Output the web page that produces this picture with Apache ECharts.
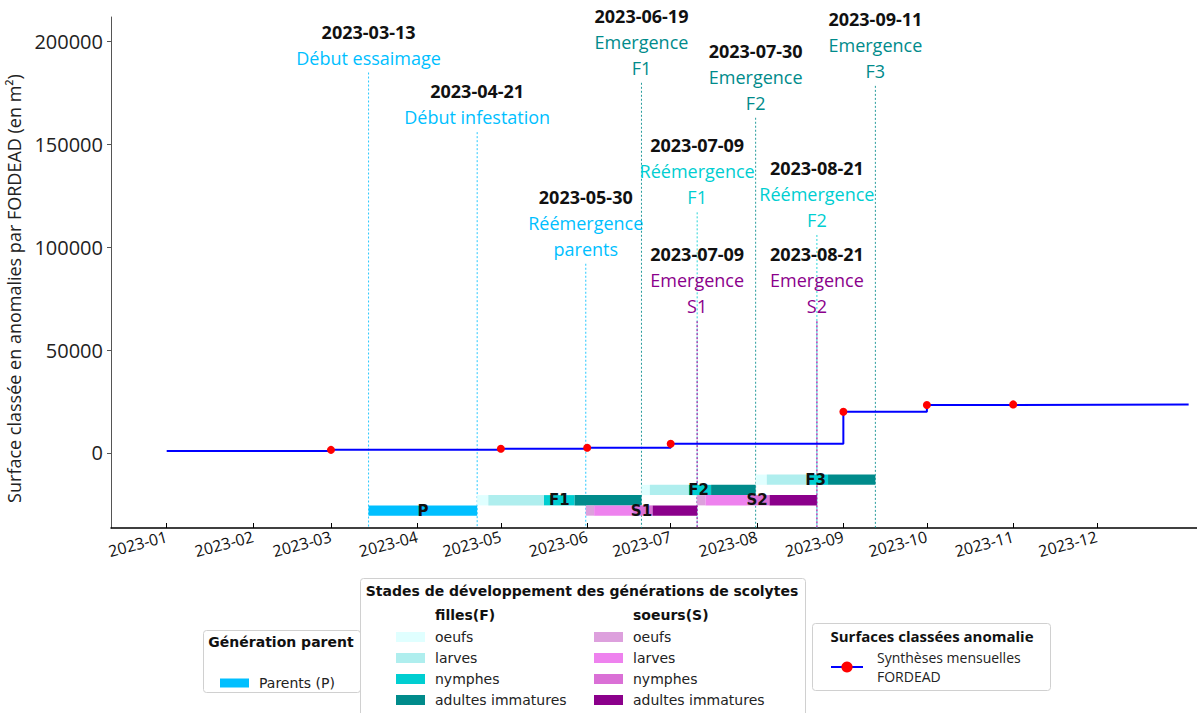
<!DOCTYPE html>
<html>
<head>
<meta charset="utf-8">
<script src="https://cdn.jsdelivr.net/npm/echarts@6/dist/echarts.min.js"></script>
<style>
html, body { margin: 0; padding: 0; background: #fff; }
#main { width: 1197px; height: 713px; }
</style>
</head>
<body>
<div id="main"></div>
<script>
// synthèses mensuelles FORDEAD (surface en m²)
const syntheseDates = ['2023-01-01', '2023-03-01', '2023-05-01', '2023-06-01', '2023-07-01', '2023-09-01', '2023-10-01', '2023-11-01', '2024-01-03'];
const syntheseValues = [1000, 1500, 2000, 2500, 4500, 20000, 23300, 23600, 23600];
const syntheseMarked = [false, true, true, true, true, true, true, true, false];

const monthTicks = ['2023-01-01', '2023-02-01', '2023-03-01', '2023-04-01', '2023-05-01', '2023-06-01',
  '2023-07-01', '2023-08-01', '2023-09-01', '2023-10-01', '2023-11-01', '2023-12-01'];
const monthLabels = ['2023-01', '2023-02', '2023-03', '2023-04', '2023-05', '2023-06',
  '2023-07', '2023-08', '2023-09', '2023-10', '2023-11', '2023-12'];
const yTicks = [0, 50000, 100000, 150000, 200000];

// générations de scolytes
const generations = ['P', 'F1', 'S1', 'F2', 'S2', 'F3'];
const genFamily = ['P', 'F', 'S', 'F', 'S', 'F'];
const genRows = [-28000, -23000, -28000, -18000, -23000, -13000];
const genStages = [
  ['2023-03-13', '2023-04-21'],
  ['2023-04-21', '2023-04-25', '2023-05-15', '2023-05-26', '2023-06-19'],
  ['2023-05-30', '2023-06-02', '2023-06-16', '2023-06-23', '2023-07-09'],
  ['2023-06-19', '2023-06-22', '2023-07-06', '2023-07-14', '2023-07-30'],
  ['2023-07-09', '2023-07-12', '2023-07-27', '2023-08-04', '2023-08-21'],
  ['2023-07-30', '2023-08-03', '2023-08-18', '2023-08-25', '2023-09-11']
];
const stageNames = ['oeufs', 'larves', 'nymphes', 'adultes immatures'];
const fillesColors = ['#e0ffff', '#afeeee', '#00ced1', '#008b8b'];
const soeursColors = ['#dda0dd', '#ee82ee', '#da70d6', '#8b008b'];
const parentColor = '#00bfff';

// dates clés
const annotDates = ['2023-03-13', '2023-04-21', '2023-05-30', '2023-06-19', '2023-07-09',
  '2023-07-09', '2023-07-30', '2023-08-21', '2023-08-21', '2023-09-11'];
const annotTexts = ['Début essaimage', 'Début infestation', 'Réémergence\nparents', 'Emergence\nF1', 'Réémergence\nF1',
  'Emergence\nS1', 'Emergence\nF2', 'Réémergence\nF2', 'Emergence\nS2', 'Emergence\nF3'];
const annotTops = [185000, 156000, 92000, 180000, 117000, 64000, 163000, 106000, 64000, 178500];
const annotColors = ['#00bfff', '#00bfff', '#00bfff', '#008b8b', '#00ced1',
  '#8b008b', '#008b8b', '#00ced1', '#8b008b', '#008b8b'];

const Y_MIN = -36500;
const Y_MAX = 212000;
const BAR_H = 5000;
// events are drawn late in the day, like in the source figure
const EVENT_SHIFT = 1.5 * 86400000;

const ts = d => echarts.time.parse(d).getTime();
const evt = d => ts(d) + EVENT_SHIFT;
const tickTimes = monthTicks.map(ts);

const chart = echarts.init(document.getElementById('main'), null, { renderer: 'svg' });

function barItem(params, api) {
  const p0 = api.coord([api.value(0), api.value(2)]);
  const p1 = api.coord([api.value(1), api.value(2)]);
  const h = api.size([0, BAR_H])[1];
  return {
    type: 'rect',
    shape: { x: p0[0], y: p0[1] - h / 2, width: p1[0] - p0[0], height: h },
    style: { fill: api.visual('color') }
  };
}

function stageSeries(prefix, colors) {
  return stageNames.map((st, k) => ({
    name: prefix + '|' + st,
    type: 'custom',
    renderItem: barItem,
    itemStyle: { color: colors[k] },
    encode: { x: [0, 1], y: 2 },
    z: 3,
    data: generations.map((g, i) => i).filter(i => genFamily[i] === prefix)
      .map(i => [evt(genStages[i][k]), evt(genStages[i][k + 1]), genRows[i]])
  }));
}

const lineData = syntheseDates.map((d, i) => {
  const item = { value: [ts(d), syntheseValues[i]] };
  if (!syntheseMarked[i]) item.symbol = 'none';
  return item;
});

const legendText = { fontFamily: 'DejaVu Sans', fontSize: 14, color: '#222', padding: [0, 0, 0, 5] };
const stripName = name => name.indexOf('|') >= 0 ? name.split('|')[1] : name;
const boldText = { fontFamily: 'DejaVu Sans', fontWeight: 'bold', fontSize: 14, fill: '#111', verticalAlign: 'middle' };

const option = {
  backgroundColor: '#fff',
  animation: false,
  grid: { left: 111, right: 0, top: 17, bottom: 185, outerBoundsMode: 'none' },
  xAxis: {
    type: 'value',
    min: ts('2022-12-12'),
    max: ts('2024-01-06'),
    splitLine: { show: false },
    axisLine: { show: true, onZero: false, lineStyle: { color: '#000', width: 1.5 } },
    axisTick: { show: true, inside: true, length: 5, lineStyle: { color: '#000' }, customValues: tickTimes },
    axisLabel: {
      show: true,
      customValues: tickTimes,
      rotate: 15,
      margin: 8,
      fontFamily: 'Open Sans',
      fontSize: 16,
      color: '#111',
      formatter: v => {
        const i = tickTimes.indexOf(v);
        return i >= 0 ? monthLabels[i] : '';
      }
    }
  },
  yAxis: {
    type: 'value',
    min: Y_MIN,
    max: Y_MAX,
    name: 'Surface classée en anomalies par FORDEAD (en m²)',
    nameLocation: 'middle',
    nameGap: 78,
    nameTextStyle: { fontFamily: 'Open Sans', fontSize: 18, color: '#222', padding: [0, 32, 0, 0] },
    splitLine: { show: false },
    axisLine: { show: true, lineStyle: { color: '#555', width: 1 } },
    axisTick: { show: true, length: 4, lineStyle: { color: '#555' }, customValues: yTicks },
    axisLabel: {
      customValues: yTicks,
      margin: 8,
      fontFamily: 'Open Sans',
      fontSize: 20,
      color: '#222',
      formatter: v => String(v)
    }
  },
  legend: [
    {
      data: ['Parents (P)'], left: 220, top: 676, padding: 0, icon: 'rect',
      itemWidth: 29, itemHeight: 9, selectedMode: false, textStyle: legendText
    },
    {
      data: stageNames.map(s => 'F|' + s), orient: 'vertical', left: 396, top: 630, padding: 0,
      icon: 'rect', itemWidth: 29, itemHeight: 10, itemGap: 7, selectedMode: false,
      textStyle: legendText, formatter: stripName
    },
    {
      data: stageNames.map(s => 'S|' + s), orient: 'vertical', left: 594, top: 630, padding: 0,
      icon: 'rect', itemWidth: 29, itemHeight: 10, itemGap: 7, selectedMode: false,
      textStyle: legendText, formatter: stripName
    },
    {
      data: ['Synthèses mensuelles FORDEAD'], left: 830, top: 648, padding: 0,
      itemWidth: 32, itemHeight: 14, selectedMode: false,
      textStyle: { fontFamily: 'Open Sans', fontSize: 14, color: '#222', lineHeight: 19, padding: [0, 0, 0, 9] },
      formatter: () => 'Synthèses mensuelles\nFORDEAD'
    }
  ],
  graphic: [
    { type: 'rect', left: 203, top: 630, shape: { width: 157, height: 62, r: 3 }, style: { fill: '#fff', stroke: '#d0d0d0', lineWidth: 1 }, z: 0 },
    { type: 'text', x: 281, y: 642, style: Object.assign({ text: 'Génération parent', align: 'center' }, boldText) },
    { type: 'rect', left: 360, top: 578, shape: { width: 445, height: 140, r: 3 }, style: { fill: '#fff', stroke: '#d0d0d0', lineWidth: 1 }, z: 0 },
    { type: 'text', x: 582, y: 591, style: Object.assign({ text: 'Stades de développement des générations de scolytes', align: 'center' }, boldText) },
    { type: 'text', x: 435, y: 615, style: Object.assign({ text: 'filles(F)', align: 'left' }, boldText) },
    { type: 'text', x: 633, y: 615, style: Object.assign({ text: 'soeurs(S)', align: 'left' }, boldText) },
    { type: 'rect', left: 812, top: 623, shape: { width: 238, height: 67, r: 3 }, style: { fill: '#fff', stroke: '#d0d0d0', lineWidth: 1 }, z: 0 },
    { type: 'text', x: 932, y: 636, style: { text: 'Surfaces classées anomalie', fontFamily: 'Open Sans', fontWeight: 'bold', fontSize: 15, fill: '#111', align: 'center', verticalAlign: 'middle' } }
  ],
  series: [
    {
      name: 'Synthèses mensuelles FORDEAD',
      type: 'line',
      step: 'end',
      symbol: 'circle',
      symbolSize: 8,
      itemStyle: { color: '#ff0000' },
      lineStyle: { color: '#0000ff', width: 2 },
      z: 5,
      data: lineData
    },
    {
      name: 'Parents (P)',
      type: 'custom',
      renderItem: barItem,
      itemStyle: { color: parentColor },
      encode: { x: [0, 1], y: 2 },
      z: 3,
      data: [[evt(genStages[0][0]), evt(genStages[0][1]), genRows[0]]]
    },
    ...stageSeries('F', fillesColors),
    ...stageSeries('S', soeursColors),
    {
      name: 'annotations',
      type: 'custom',
      z: 1,
      silent: true,
      encode: { x: 0, y: 1 },
      data: annotDates.map((d, i) => [evt(d), annotTops[i], i]),
      renderItem: (params, api) => {
        const i = api.value(2);
        const top = api.coord([api.value(0), api.value(1)]);
        const bottom = api.coord([api.value(0), Y_MIN]);
        const c = annotColors[i];
        const isSister = c === '#8b008b';
        const desc = annotTexts[i].split('\n').map(s => '{t|' + s + '}').join('\n');
        return {
          type: 'group',
          children: [
            {
              type: 'line',
              shape: { x1: top[0], y1: top[1], x2: bottom[0], y2: bottom[1] },
              style: isSister
                ? { stroke: '#b040b0', lineWidth: 1.5, lineDash: [2, 2] }
                : { stroke: c, lineWidth: 1, lineDash: [2, 2], opacity: 0.85 }
            },
            {
              type: 'text',
              x: top[0],
              y: top[1] - 2,
              style: {
                text: '{d|' + annotDates[i] + '}\n' + desc,
                align: 'center',
                verticalAlign: 'bottom',
                rich: {
                  d: { fontFamily: 'Open Sans', fontWeight: 'bold', fontSize: 18, lineHeight: 26, fill: '#111', align: 'center' },
                  t: { fontFamily: 'Open Sans', fontSize: 18, lineHeight: 26, fill: c, align: 'center' }
                }
              }
            }
          ]
        };
      }
    },
    {
      name: 'générations',
      type: 'custom',
      z: 4,
      silent: true,
      encode: { x: [0, 1], y: 2 },
      data: generations.map((g, i) => [evt(genStages[i][0]), evt(genStages[i][genStages[i].length - 1]), genRows[i], i]),
      renderItem: (params, api) => {
        const mid = (api.value(0) + api.value(1)) / 2;
        const p = api.coord([mid, api.value(2)]);
        return {
          type: 'text',
          x: p[0],
          y: p[1],
          style: {
            text: generations[api.value(3)],
            fontFamily: 'DejaVu Sans',
            fontWeight: 'bold',
            fontSize: 15,
            fill: '#111',
            align: 'center',
            verticalAlign: 'middle'
          }
        };
      }
    }
  ]
};

chart.setOption(option);

window.addEventListener('resize', () => {
  chart.resize();
});
</script>
</body>
</html>
